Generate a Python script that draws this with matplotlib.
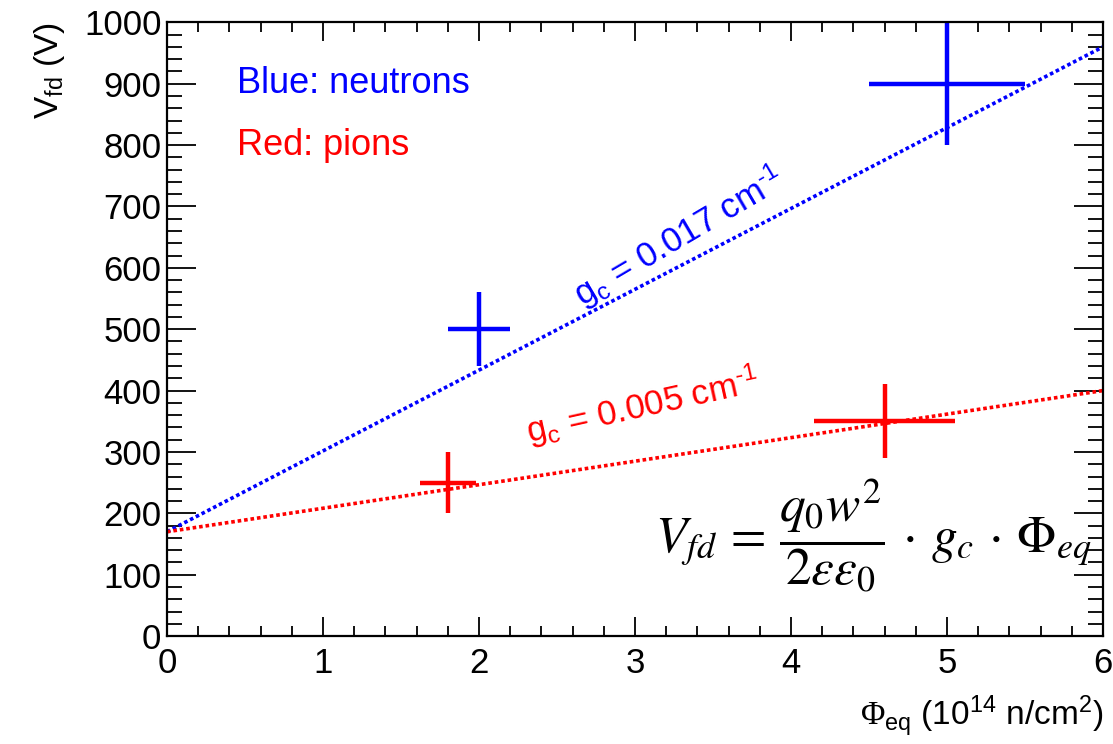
import matplotlib.pyplot as plt
from matplotlib.ticker import MultipleLocator

plt.rcParams["font.family"] = ["Liberation Sans", "DejaVu Sans"]
plt.rcParams["mathtext.fontset"] = "custom"
plt.rcParams["mathtext.rm"] = "Liberation Sans"
plt.rcParams["mathtext.it"] = "Liberation Sans:italic"
plt.rcParams["mathtext.tt"] = "Liberation Serif"

# measured points (fluence in 1e14 n/cm2, full depletion voltage in V)
neutron_x = [2.0, 5.0]
neutron_y = [500, 900]
neutron_xerr = [0.2, 0.5]
neutron_yerr = [60, 100]

pion_x = [1.8, 4.6]
pion_y = [250, 350]
pion_xerr = [0.18, 0.45]
pion_yerr = [50, 60]

# straight-line fits, end points at x = 0 and x = 6
fit_x = [0, 6]
neutron_fit = [170, 960]
pion_fit = [170, 400]

fig = plt.figure(figsize=(11.13, 7.44), dpi=100)
ax = fig.add_axes([0.150, 0.145, 0.841, 0.825])

ax.plot(fit_x, neutron_fit, color="blue", lw=2.6, ls=(0, (1, 0.8)))
ax.plot(fit_x, pion_fit, color="red", lw=2.6, ls=(0, (1, 0.8)))

ax.errorbar(neutron_x, neutron_y, xerr=neutron_xerr, yerr=neutron_yerr,
            fmt="none", ecolor="blue", elinewidth=3.2, capsize=0)
ax.errorbar(pion_x, pion_y, xerr=pion_xerr, yerr=pion_yerr,
            fmt="none", ecolor="red", elinewidth=3.2, capsize=0)

ax.set_xlim(0, 6)
ax.set_ylim(0, 1000)
ax.xaxis.set_major_locator(MultipleLocator(1))
ax.xaxis.set_minor_locator(MultipleLocator(0.2))
ax.yaxis.set_major_locator(MultipleLocator(100))
ax.yaxis.set_minor_locator(MultipleLocator(20))

ax.tick_params(axis="both", which="both", direction="in", top=True, right=True,
               labelsize=25, width=1.3, color="black")
ax.tick_params(axis="x", which="major", length=14, pad=8)
ax.tick_params(axis="x", which="minor", length=7)
ax.tick_params(axis="y", which="major", length=21, pad=4)
ax.tick_params(axis="y", which="minor", length=11)
for s in ax.spines.values():
    s.set_linewidth(1.6)

ax.set_ylabel(r"V$_{\mathrm{fd}}$ (V)", fontsize=24, loc="top", labelpad=12)
ax.set_xlabel(r"$\mathtt{\Phi}_{\mathrm{eq}}$ (10$^{\mathrm{14}}$ n/cm$^{\mathrm{2}}$)",
              fontsize=24, loc="right", labelpad=10)

ax.text(0.45, 900, "Blue: neutrons", color="blue", fontsize=26, va="center")
ax.text(0.45, 800, "Red: pions", color="red", fontsize=26, va="center")

ax.text(3.28, 650, r"g$_{\mathrm{c}}$ = 0.017 cm$^{\text{-1}}$", color="blue",
        fontsize=25, rotation=30.5, ha="center", va="center",
        rotation_mode="anchor")
ax.text(3.05, 375, r"g$_{\mathrm{c}}$ = 0.005 cm$^{\text{-1}}$", color="red",
        fontsize=25, rotation=12.5, ha="center", va="center",
        rotation_mode="anchor")

ax.text(4.53, 165,
        r"$V_{fd}\,=\,\dfrac{q_0 w^2}{2\varepsilon\varepsilon_0}\,\cdot\,g_c\,\cdot\,\Phi_{eq}$",
        fontsize=37, ha="center", va="center", math_fontfamily="stix")

fig.savefig("out.png", dpi=100)
